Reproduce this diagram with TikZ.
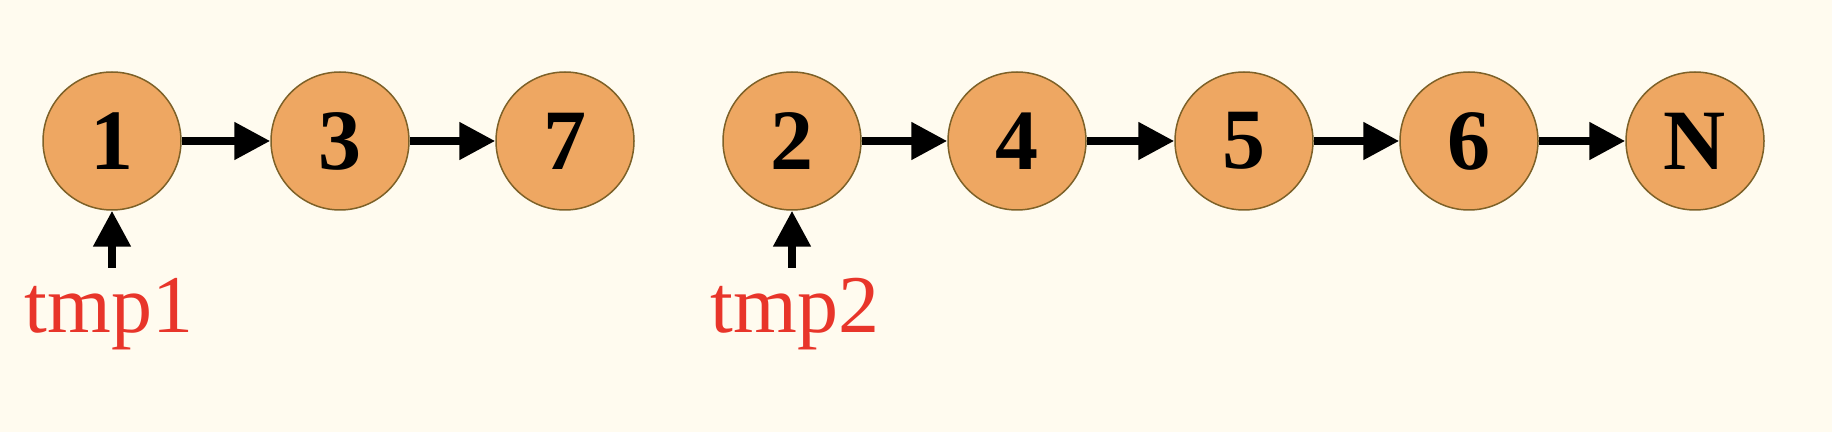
\documentclass[tikz,border=0pt]{standalone}
\usepackage{fontspec}
\setmainfont{LiberationSerif}[Extension=.ttf, UprightFont=*-Regular, BoldFont=*-Bold]
\usetikzlibrary{arrows.meta}

\definecolor{bgcream}{HTML}{FFFBEF}
\definecolor{nodefill}{HTML}{EEA762}
\definecolor{nodeedge}{HTML}{7D6128}
\definecolor{ptrred}{HTML}{E8352A}

\tikzset{
    listnode/.style={circle, draw=nodeedge, fill=nodefill, line width=0.75pt,
        minimum size=69pt, inner sep=0pt, font=\fontsize{43}{43}\selectfont\bfseries},
    nextarrow/.style={line width=4pt, -{Triangle[length=18pt,width=18pt]}},
    ptrlabel/.style={text=ptrred, anchor=base, inner sep=0pt,
        font=\fontsize{41}{41}\selectfont}
}

\begin{document}
\begin{tikzpicture}[x=0.5pt,y=-0.5pt]
    \fill[bgcream] (0,0) rectangle (1832,432);
    \useasboundingbox (0,0) rectangle (1832,432);

    % first list
    \node[listnode] at (112,141) (L1) {1};
    \node[listnode] at (340,141) (L3) {3};
    \node[listnode] at (565,141) (L7) {7};
    \draw[nextarrow] (L1.east) -- (L3.west);
    \draw[nextarrow] (L3.east) -- (L7.west);

    % second list
    \node[listnode] at (792,141) (L2) {2};
    \node[listnode] at (1017,141) (L4) {4};
    \node[listnode] at (1244,141) (L5) {5};
    \node[listnode] at (1469,141) (L6) {6};
    \node[listnode] at (1695,141) (LN) {N};
    \draw[nextarrow] (L2.east) -- (L4.west);
    \draw[nextarrow] (L4.east) -- (L5.west);
    \draw[nextarrow] (L5.east) -- (L6.west);
    \draw[nextarrow] (L6.east) -- (LN.west);

    % pointers
    \node[ptrlabel] at (109,333) (tmp1) {tmp1};
    \node[ptrlabel] at (795,333) (tmp2) {tmp2};
    \coordinate (P1) at (112,268);
    \coordinate (P2) at (792,268);
    \draw[nextarrow] (P1) -- (L1.south);
    \draw[nextarrow] (P2) -- (L2.south);
\end{tikzpicture}
\end{document}
